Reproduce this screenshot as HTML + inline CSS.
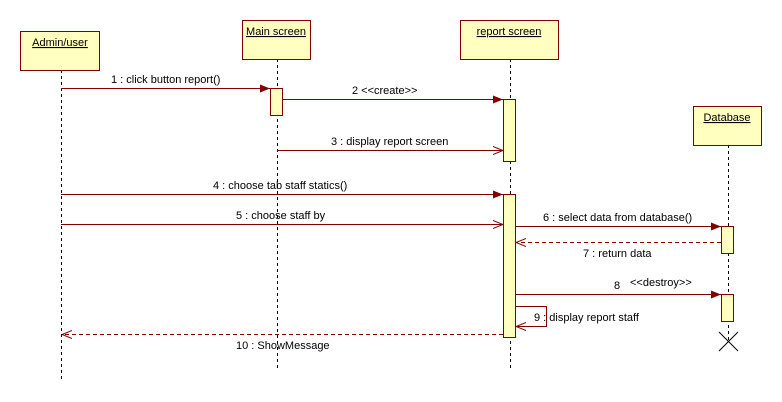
<!DOCTYPE html>
<html><head><style>
html,body{margin:0;padding:0;background:#fff;width:782px;height:402px;overflow:hidden}
text{font-family:"Liberation Sans",sans-serif;font-size:11px;fill:#000}
</style></head><body>
<svg width="782" height="402" xmlns="http://www.w3.org/2000/svg">
<defs>
<marker id="f" markerWidth="10" markerHeight="8" refX="10" refY="4" orient="auto" markerUnits="userSpaceOnUse"><path d="M0,0 L10,4 L0,8 Z" fill="#800000"/></marker>
<marker id="o" markerWidth="10" markerHeight="10" refX="10" refY="5" orient="auto" markerUnits="userSpaceOnUse"><path d="M0,1 L10,5 L0,9" fill="none" stroke="#800000" stroke-width="1"/></marker>
</defs>
<g stroke="#000" stroke-dasharray="3,3" stroke-width="1">
<line x1="61.5" y1="70" x2="61.5" y2="380"/>
<line x1="277.5" y1="59" x2="277.5" y2="370"/>
<line x1="510.5" y1="59" x2="510.5" y2="368"/>
<line x1="728.5" y1="145" x2="728.5" y2="340"/>
</g>
<g fill="#ffffc0" stroke="#800000" stroke-width="1">
<rect x="20.5" y="31.5" width="79" height="39"/>
<rect x="242.5" y="20.5" width="68" height="39"/>
<rect x="460.5" y="20.5" width="98" height="39"/>
<rect x="693.5" y="106.5" width="68" height="39"/>
<rect x="270.5" y="88.5" width="12" height="27"/>
<rect x="503.5" y="99.5" width="12" height="62"/>
<rect x="503.5" y="194.5" width="12" height="143"/>
<rect x="721.5" y="226.5" width="12" height="27"/>
<rect x="721.5" y="294.5" width="12" height="27"/>
</g>
<text x="60" y="46" text-anchor="middle" text-decoration="underline">Admin/user</text>
<text x="276" y="35" text-anchor="middle" text-decoration="underline">Main screen</text>
<text x="509" y="35" text-anchor="middle" text-decoration="underline">report screen</text>
<text x="727" y="121" text-anchor="middle" text-decoration="underline">Database</text>
<g stroke="#800000" stroke-width="1" fill="none">
<line x1="61" y1="88.5" x2="270" y2="88.5" marker-end="url(#f)"/>
<line x1="282" y1="99.5" x2="503" y2="99.5" marker-end="url(#f)"/>
<line x1="277" y1="150.5" x2="503" y2="150.5" marker-end="url(#o)"/>
<line x1="61" y1="194.5" x2="503" y2="194.5" marker-end="url(#f)"/>
<line x1="61" y1="224.5" x2="503" y2="224.5" marker-end="url(#o)"/>
<line x1="515" y1="226.5" x2="721" y2="226.5" marker-end="url(#f)"/>
<line x1="721" y1="242.5" x2="516" y2="242.5" stroke-dasharray="4,3" marker-end="url(#o)"/>
<line x1="515" y1="294.5" x2="721" y2="294.5" marker-end="url(#f)"/>
<polyline points="515,306.5 546.5,306.5 546.5,326.5 516,326.5" marker-end="url(#o)"/>
<line x1="503" y1="334.5" x2="62" y2="334.5" stroke-dasharray="4,3" marker-end="url(#o)"/>
</g>
<g stroke="#000" stroke-width="1"><line x1="719" y1="332" x2="738" y2="351"/><line x1="738" y1="332" x2="719" y2="351"/></g>
<text x="111" y="83">1 : click button report()</text>
<text x="352" y="94">2 &lt;&lt;create&gt;&gt;</text>
<text x="331" y="145">3 : display report screen</text>
<text x="213" y="189">4 : choose tab staff statics()</text>
<text x="236" y="219">5 : choose staff by</text>
<text x="543" y="221">6 : select data from database()</text>
<text x="583" y="257">7 : return data</text>
<text x="614" y="289">8</text>
<text x="630" y="286">&lt;&lt;destroy&gt;&gt;</text>
<text x="534" y="321">9 : display report staff</text>
<text x="236" y="349">10 : ShowMessage</text>
</svg>
</body></html>
